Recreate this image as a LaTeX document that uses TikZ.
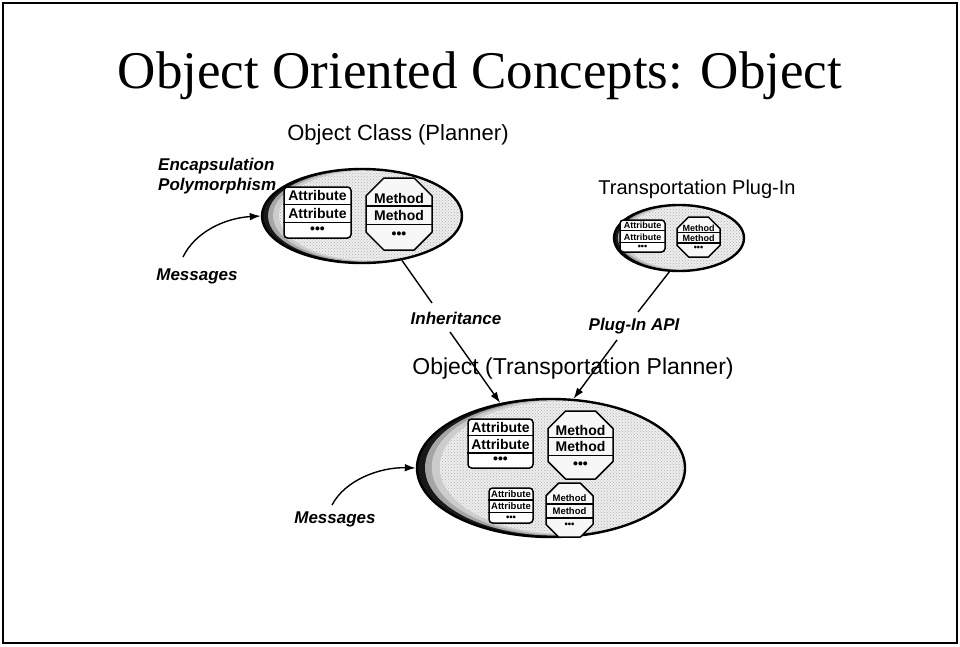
\documentclass[tikz,border=0pt]{standalone}
\usepackage{fontspec}
\setmainfont{Liberation Serif}
\setsansfont{Liberation Sans}
\usetikzlibrary{shapes.geometric,arrows.meta,calc,patterns}

\newcommand\shadeblob[4]{%
  \fill[black!90] (#1,#2) ellipse ({#3pt} and {#4pt});
  \fill[gray!70] ({#1+0.03*#3},{#2-0.005*#4}) ellipse ({0.97*#3pt} and {0.985*#4pt});
  \fill[gray!40] ({#1+0.055*#3},{#2-0.01*#4}) ellipse ({0.945*#3pt} and {0.975*#4pt});
  \fill[gray!14] ({#1+0.085*#3},{#2-0.01*#4}) ellipse ({0.915*#3pt} and {0.96*#4pt});
  \fill[pattern=crosshatch dots, pattern color=gray!60] ({#1+0.085*#3},{#2-0.01*#4}) ellipse ({0.915*#3pt} and {0.96*#4pt});
}
\newcommand\cellfont[1]{\sffamily\bfseries\fontsize{#1}{#1}\selectfont}
\newcommand\attrbox[6]{%
  \node[attrshape, minimum width=#4pt, minimum height=#5pt] (#1) at (#2,#3) {};
  \draw[divline] ($(#1.north west)!0.345!(#1.south west)$) -- ($(#1.north east)!0.345!(#1.south east)$);
  \draw[divline] ($(#1.north west)!0.69!(#1.south west)$) -- ($(#1.north east)!0.69!(#1.south east)$);
  \node[cell, font=\cellfont{#6}] (#1-a) at ($(#1.north)!0.18!(#1.south)$) {Attribute};
  \node[cell, font=\cellfont{#6}] (#1-b) at ($(#1.north)!0.525!(#1.south)$) {Attribute};
  \node[cell, font=\cellfont{#6}] (#1-c) at ($(#1.north)!0.84!(#1.south)$) {•••};
}
\newcommand\methbox[6]{%
  \node[inner sep=0, minimum width=#4pt, minimum height=#5pt] (#1) at (#2,#3) {};
  \begin{scope}[shift={(#1.center)}]
    \pgfmathsetmacro\hw{#4/2}
    \pgfmathsetmacro\hh{#5/2}
    \pgfmathsetmacro\cc{#4*0.27}
    \draw[octshape] (-\hw+\cc,-\hh) -- (\hw-\cc,-\hh) -- (\hw,-\hh+\cc) -- (\hw,\hh-\cc)
      -- (\hw-\cc,\hh) -- (-\hw+\cc,\hh) -- (-\hw,\hh-\cc) -- (-\hw,-\hh+\cc) -- cycle;
    \draw[divline] (-\hw,{-0.11*#5}) -- (\hw,{-0.11*#5});
    \draw[divline] (-\hw,{0.15*#5}) -- (\hw,{0.15*#5});
  \end{scope}
  \node[cell, font=\cellfont{#6}] (#1-a) at ($(#1.center)+(0,{-0.215*#5})$) {Method};
  \node[cell, font=\cellfont{#6}] (#1-b) at ($(#1.center)+(0,{0.025*#5})$) {Method};
  \node[cell, font=\cellfont{#6}] (#1-c) at ($(#1.center)+(0,{0.29*#5})$) {•••};
}

\begin{document}
\begin{tikzpicture}[x=1pt,y=-1pt,
  lbl/.style={font=\sffamily\fontsize{22}{26}\selectfont, inner sep=0},
  itl/.style={font=\sffamily\bfseries\itshape\fontsize{17}{20}\selectfont, inner sep=0},
  blob/.style={ellipse, draw, line width=2.4pt, inner sep=0},
  attrshape/.style={draw, line width=1.5pt, rounded corners=3.5pt, fill=white, inner sep=0},
  octshape/.style={draw, line width=1.5pt, fill=gray!6, line join=round},
  divline/.style={line width=1.3pt},
  cell/.style={inner sep=0},
  conn/.style={line width=1.4pt},
  arr/.style={line width=1.4pt, -{Latex[length=11pt,width=7.5pt]}},
]
\useasboundingbox (0,0) rectangle (960,646);
\draw[line width=1.5pt] (3,3) rectangle (957,643);

\node[font=\fontsize{53}{60}\selectfont, anchor=base, inner sep=0] (title) at (480,88) {Object Oriented Concepts: Object};

% Object class ellipse
\node[lbl] (cls) at (398,135) {Object Class (Planner)};
\shadeblob{362}{216}{100}{47}
\node[blob, minimum width=200pt, minimum height=94pt] (e1) at (362,216) {};
\attrbox{a1}{317.5}{212.5}{67}{51}{14}
\methbox{m1}{399}{214}{66}{72}{14}
\node[itl, anchor=west] (enc) at (158,166) {Encapsulation};
\node[itl, anchor=west] (poly) at (158,186) {Polymorphism};
\node[itl] (msg1) at (197,276) {Messages};
\coordinate (m1s) at (183,257);
\draw[arr] (m1s) .. controls (195,232) and (225,218) .. (e1.west);

% Plug-in ellipse
\node[lbl, font=\sffamily\fontsize{20}{24}\selectfont] (plug) at (697,189) {Transportation Plug-In};
\shadeblob{679}{238}{65}{33}
\node[blob, minimum width=130pt, minimum height=66pt] (e2) at (679,238) {};
\attrbox{a2}{642.5}{236}{45}{32}{9}
\methbox{m2}{698.5}{237}{43}{40}{9}

% Connectors
\node[itl] (inh) at (456,318) {Inheritance};
\node[itl] (api) at (634,326) {Plug-In API};
\coordinate (i1) at (432,303);
\coordinate (i2) at (450,332);
\coordinate (p1) at (638,312);
\coordinate (p2) at (617,340);

% Object ellipse
\node[lbl, font=\sffamily\fontsize{23}{27}\selectfont] (obj) at (573,369) {Object (Transportation Planner)};
\shadeblob{551}{468}{134}{69}
\node[blob, minimum width=268pt, minimum height=138pt] (e3) at (551,468) {};
\attrbox{a3}{500.5}{443.5}{65}{49}{14}
\methbox{m3}{580.5}{445}{65}{68}{14}
\attrbox{a4}{511}{505.5}{44}{35}{9.5}
\methbox{m4}{569.5}{510}{47}{54}{9.5}

\draw[conn] (e1.-48) -- (i1);
\draw[arr] (i2) -- (e3.128);
\draw[conn] (e2.-106) -- (p1);
\draw[arr] (p2) -- (e3.72);

\node[itl] (msg2) at (335,519) {Messages};
\coordinate (m2s) at (332,505);
\draw[arr] (m2s) .. controls (345,480) and (380,467) .. (e3.west);
\end{tikzpicture}
\end{document}
